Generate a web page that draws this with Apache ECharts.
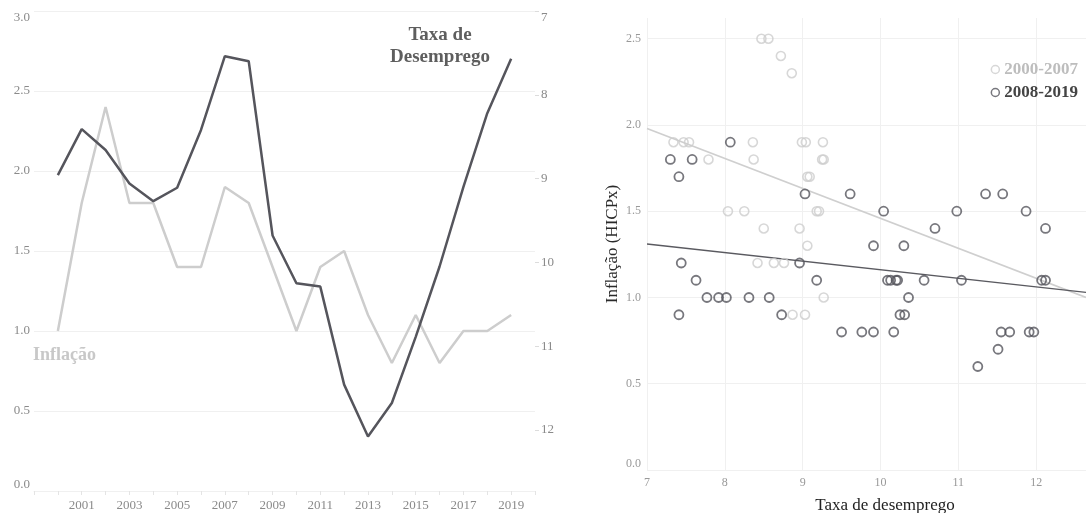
<!DOCTYPE html>
<html>
<head>
<meta charset="utf-8">
<script src="https://cdn.jsdelivr.net/npm/echarts@6/dist/echarts.min.js"></script>
<style>
  html, body { margin: 0; padding: 0; background: #fff; }
  #chart { width: 1086px; height: 513px; }
</style>
</head>
<body>
<div id="chart"></div>
<script>
// anos e séries do gráfico da esquerda
const years = [2000, 2001, 2002, 2003, 2004, 2005, 2006, 2007, 2008, 2009,
               2010, 2011, 2012, 2013, 2014, 2015, 2016, 2017, 2018, 2019];
const inflacao = [1.0, 1.8, 2.4, 1.8, 1.8, 1.4, 1.4, 1.9, 1.8, 1.4,
                  1.0, 1.4, 1.5, 1.1, 0.8, 1.1, 0.8, 1.0, 1.0, 1.1];
const desemprego = [8.96, 8.41, 8.66, 9.06, 9.27, 9.11, 8.42, 7.54, 7.60, 9.68,
                    10.25, 10.29, 11.46, 12.08, 11.68, 10.89, 10.05, 9.10, 8.22, 7.57];

// dispersão: [taxa de desemprego, inflação]
const pontos2000 = [[8.47,2.5],[8.56,2.5],[8.72,2.4],[8.86,2.3],[7.34,1.9],[7.47,1.9],[7.54,1.9],
  [8.36,1.9],[8.99,1.9],[9.04,1.9],[9.26,1.9],[7.79,1.8],[8.37,1.8],[9.25,1.8],[9.27,1.8],
  [9.06,1.7],[9.09,1.7],[8.04,1.5],[8.25,1.5],[9.18,1.5],[9.21,1.5],[8.50,1.4],[8.96,1.4],
  [9.06,1.3],[8.42,1.2],[8.63,1.2],[8.76,1.2],[9.27,1.0],[8.87,0.9],[9.03,0.9]];
const pontos2008 = [[8.07,1.9],[7.30,1.8],[7.58,1.8],[7.41,1.7],[9.03,1.6],[9.61,1.6],[11.35,1.6],
  [11.57,1.6],[10.04,1.5],[10.98,1.5],[11.87,1.5],[10.70,1.4],[12.12,1.4],[9.91,1.3],[10.30,1.3],
  [7.44,1.2],[8.96,1.2],[7.63,1.1],[9.18,1.1],[10.09,1.1],[10.13,1.1],[10.20,1.1],[10.22,1.1],
  [10.56,1.1],[11.04,1.1],[12.07,1.1],[12.12,1.1],[7.77,1.0],[7.92,1.0],[8.02,1.0],[8.31,1.0],
  [8.57,1.0],[10.36,1.0],[7.41,0.9],[8.73,0.9],[10.25,0.9],[10.31,0.9],[9.50,0.8],[9.76,0.8],
  [9.91,0.8],[10.17,0.8],[11.55,0.8],[11.66,0.8],[11.91,0.8],[11.97,0.8],[11.51,0.7],[11.25,0.6]];
// retas de tendência (extremos)
const tendencia2000 = [[7, 1.98], [12.64, 1.0]];
const tendencia2008 = [[7, 1.31], [12.64, 1.03]];

const serif = 'Liberation Serif';
const cinzaClaro = '#cdcdcd';
const cinzaEscuro = '#55555c';
const grid = '#f0f0f0';

let chart = echarts.init(document.getElementById('chart'));
chart.setOption({
  animation: false,
  textStyle: { fontFamily: serif },
  grid: [
    { left: 34, top: 11, width: 501, height: 480, outerBoundsMode: 'none' },
    { left: 647, top: 18, right: 0, height: 452, outerBoundsMode: 'none' }
  ],
  xAxis: [
    {
      gridIndex: 0, type: 'value', min: 1999, max: 2020, interval: 1,
      splitLine: { show: false },
      axisLine: { lineStyle: { color: grid } },
      axisTick: { show: true, length: 4, lineStyle: { color: '#e4e4e4' } },
      axisLabel: {
        color: '#8a8a8a', fontSize: 13, fontFamily: serif, margin: 8,
        formatter: v => (v % 2 === 1 && v > 1999 && v < 2020) ? String(v) : ''
      }
    },
    {
      gridIndex: 1, type: 'value', min: 7, max: 12.64, interval: 1,
      splitLine: { show: true, showMaxLine: false, lineStyle: { color: grid } },
      axisLine: { show: false }, axisTick: { show: false },
      axisLabel: { color: '#999', fontSize: 12, fontFamily: serif, margin: 7, showMaxLabel: false },
      name: 'Taxa de desemprego', nameLocation: 'middle', nameGap: 27,
      nameTextStyle: { color: '#222', fontSize: 17, fontFamily: serif, padding: [0, 0, 0, 37] }
    }
  ],
  yAxis: [
    {
      gridIndex: 0, type: 'value', min: 0, max: 3, interval: 0.5,
      splitLine: { lineStyle: { color: grid } },
      axisLine: { show: false }, axisTick: { show: false },
      axisLabel: {
        color: '#8a8a8a', fontSize: 13, fontFamily: serif, margin: 4,
        formatter: v => v.toFixed(1),
        verticalAlignMaxLabel: 'top', verticalAlignMinLabel: 'bottom'
      }
    },
    {
      gridIndex: 0, type: 'value', min: 7, max: 12.73, interval: 1, inverse: true,
      position: 'right',
      splitLine: { show: false },
      axisLine: { show: false },
      axisTick: { show: true, length: 4, lineStyle: { color: '#dcdcdc' } },
      axisLabel: {
        color: '#8a8a8a', fontSize: 13, fontFamily: serif, margin: 6,
        showMaxLabel: false, verticalAlignMinLabel: 'top'
      }
    },
    {
      gridIndex: 1, type: 'value', min: 0, max: 2.62, interval: 0.5,
      splitLine: { show: true, showMaxLine: false, lineStyle: { color: grid } },
      axisLine: { show: false }, axisTick: { show: false },
      axisLabel: {
        color: '#999', fontSize: 12, fontFamily: serif, margin: 6,
        formatter: v => v.toFixed(1), showMaxLabel: false, verticalAlignMinLabel: 'bottom'
      },
      name: 'Inflação (HICPx)', nameLocation: 'middle', nameGap: 26, nameRotate: 90,
      nameTextStyle: { color: '#2a2a2a', fontSize: 17, fontFamily: serif }
    }
  ],
  legend: {
    orient: 'vertical', right: 3, top: 56, itemGap: 6,
    itemWidth: 8, itemHeight: 8, icon: 'circle',
    textStyle: { fontSize: 17, fontWeight: 'bold', fontFamily: serif },
    data: [
      { name: '2000-2007', textStyle: { color: '#bdbdbd' },
        itemStyle: { color: 'rgba(0,0,0,0)', borderColor: cinzaClaro, borderWidth: 1.5 } },
      { name: '2008-2019', textStyle: { color: '#444' },
        itemStyle: { color: 'rgba(0,0,0,0)', borderColor: cinzaEscuro, borderWidth: 1.5 } }
    ]
  },
  graphic: [
    { type: 'text', x: 440, y: 24, style: {
        text: 'Taxa de\nDesemprego', align: 'center', lineHeight: 22,
        font: 'bold 19px "Liberation Serif"', fill: '#5e5e5e' } },
    { type: 'text', left: 33, top: 346, style: {
        text: 'Inflação', font: 'bold 18px "Liberation Serif"', fill: '#c8c8c8' } }
  ],
  series: [
    {
      name: 'Inflação', type: 'line', xAxisIndex: 0, yAxisIndex: 0,
      data: years.map((y, i) => [y, inflacao[i]]),
      symbol: 'none', lineStyle: { color: cinzaClaro, width: 2.5 }, z: 2
    },
    {
      name: 'Taxa de Desemprego', type: 'line', xAxisIndex: 0, yAxisIndex: 1,
      data: years.map((y, i) => [y, desemprego[i]]),
      symbol: 'none', lineStyle: { color: cinzaEscuro, width: 2.5 }, z: 3
    },
    {
      name: 'tend2000', type: 'line', xAxisIndex: 1, yAxisIndex: 2,
      data: tendencia2000, symbol: 'none', lineStyle: { color: '#cfcfcf', width: 1.6 }, z: 1
    },
    {
      name: 'tend2008', type: 'line', xAxisIndex: 1, yAxisIndex: 2,
      data: tendencia2008, symbol: 'none', lineStyle: { color: '#5a5a60', width: 1.3 }, z: 1
    },
    {
      name: '2000-2007', type: 'scatter', xAxisIndex: 1, yAxisIndex: 2,
      data: pontos2000, symbol: 'circle', symbolSize: 9,
      itemStyle: { color: 'rgba(0,0,0,0)', borderColor: cinzaClaro, borderWidth: 1.6 }, z: 3
    },
    {
      name: '2008-2019', type: 'scatter', xAxisIndex: 1, yAxisIndex: 2,
      data: pontos2008, symbol: 'circle', symbolSize: 9,
      itemStyle: { color: 'rgba(0,0,0,0)', borderColor: cinzaEscuro, borderWidth: 1.8 }, z: 4
    }
  ]
});
</script>
</body>
</html>
